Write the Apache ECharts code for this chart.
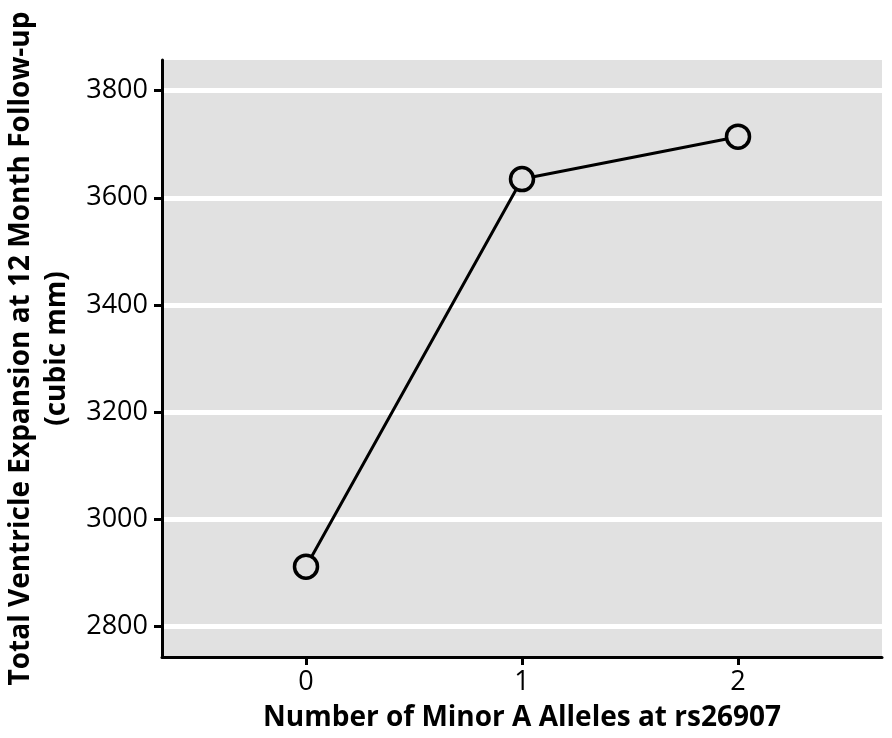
<!DOCTYPE html>
<html>
<head>
<meta charset="utf-8">
<script src="https://cdn.jsdelivr.net/npm/echarts@6/dist/echarts.min.js"></script>
<style>
html,body{margin:0;padding:0;background:#fff;}
#chart{width:892px;height:738px;}
</style>
</head>
<body>
<div id="chart"></div>
<script>
const alleleCounts = [0, 1, 2];
const ventricleExpansion = [2912, 3635, 3714];
const yTicks = [2800, 3000, 3200, 3400, 3600, 3800];
const xTicks = [0, 1, 2];
const xTitle = 'Number of Minor A Alleles at rs26907';
const yTitle = 'Total Ventricle Expansion at 12 Month Follow-up\n(cubic mm)';

const FONT = 'Open Sans';
const chart = echarts.init(document.getElementById('chart'), null, {renderer: 'canvas'});
chart.setOption({
  animation: false,
  backgroundColor: '#ffffff',
  grid: {
    left: 162, right: 10, top: 60, bottom: 81,
    outerBoundsMode: 'none',
    containLabel: false,
    show: true, backgroundColor: '#e1e1e1', borderWidth: 0
  },
  xAxis: {
    type: 'value',
    min: -2/3, max: 8/3,
    name: xTitle,
    nameLocation: 'middle',
    nameGap: 47,
    nameTextStyle: {fontFamily: FONT, fontWeight: 'bold', fontSize: 28, color: '#000'},
    axisLine: {show: true, onZero: false, lineStyle: {color: '#000', width: 3}},
    axisTick: {show: true, length: 8, lineStyle: {color: '#000', width: 3}, customValues: xTicks},
    axisLabel: {fontFamily: FONT, fontSize: 27, color: '#000', margin: 12, customValues: xTicks,
      formatter: v => String(v)},
    splitLine: {show: false}
  },
  yAxis: {
    type: 'value',
    min: 2743.5, max: 3857,
    name: yTitle,
    nameLocation: 'middle',
    nameRotate: 90,
    nameGap: 74,
    nameTextStyle: {fontFamily: FONT, fontWeight: 'bold', fontSize: 28, color: '#000', lineHeight: 36, align: 'center',
      padding: [0, 0, 0, 20]},
    axisLine: {show: true, onZero: false, lineStyle: {color: '#000', width: 3}},
    axisTick: {show: true, length: 8, lineStyle: {color: '#000', width: 3}, customValues: yTicks},
    axisLabel: {fontFamily: FONT, fontSize: 27, color: '#000', margin: 14, customValues: yTicks,
      formatter: v => String(v)},
    splitLine: {show: true, lineStyle: {color: '#ffffff', width: 5}}
  },
  series: [{
    type: 'line',
    data: alleleCounts.map((x, i) => [x, ventricleExpansion[i]]),
    lineStyle: {color: '#000', width: 3},
    symbol: 'circle',
    symbolSize: 23,
    itemStyle: {color: '#e1e1e1', borderColor: '#000', borderWidth: 3.5, opacity: 1},
    emphasis: {disabled: true},
    z: 5
  }]
});
</script>
</body>
</html>
